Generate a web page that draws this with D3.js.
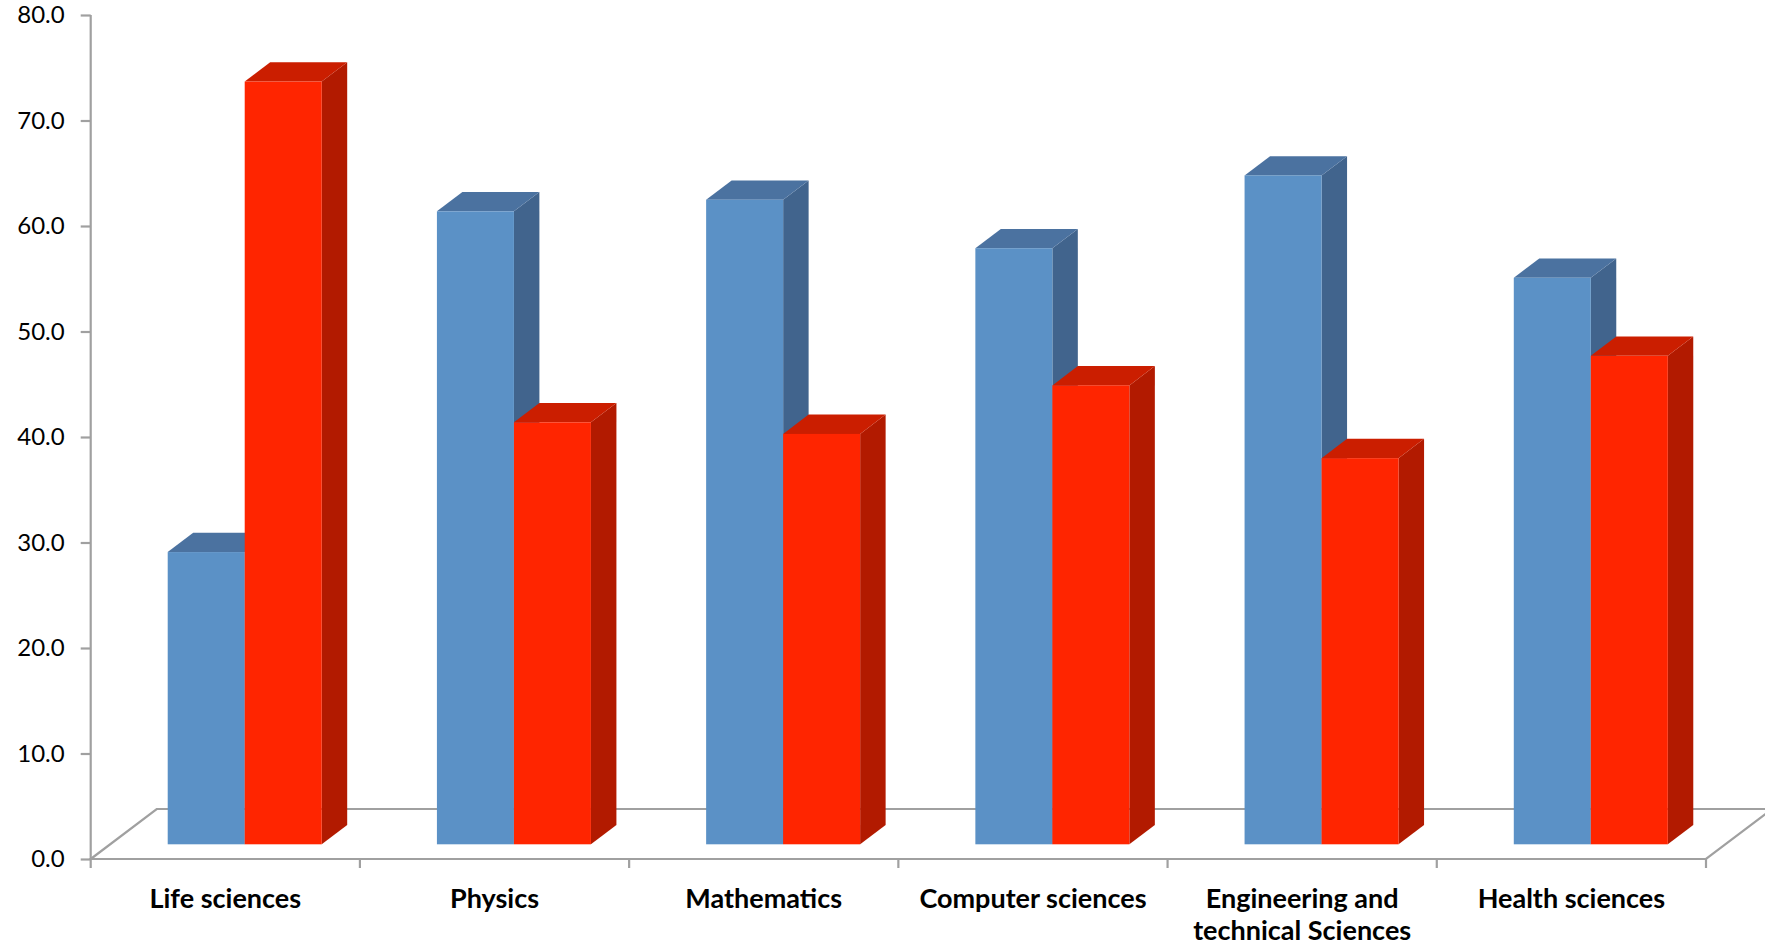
<!DOCTYPE html>
<html lang="en">
<head>
  <meta charset="UTF-8">
  <title>3D column chart</title>
  <script src="https://d3js.org/d3.v7.min.js"></script>
  <style>
    body {
      margin: 0;
      overflow: hidden;
      background: #fff;
      font-family: Lato, "Open Sans", sans-serif;
    }
    svg {
      display: block;
    }
    .axis-line {
      stroke: #a0a0a0;
      stroke-width: 2.2px;
      fill: none;
    }
    .y-axis text {
      font-family: Lato, "Open Sans", sans-serif;
      font-size: 24px;
      fill: #000;
    }
    .cat-label {
      font-family: Lato, "Open Sans", sans-serif;
      font-size: 27px;
      font-weight: bold;
      text-anchor: middle;
      fill: #000;
    }
  </style>
</head>
<body>
<svg></svg>
<script>
  const categories = ["Life sciences", "Physics", "Mathematics", "Computer sciences",
    "Engineering and technical Sciences", "Health sciences"];
  // two series, each pair adds up to 100
  const seriesA = [27.7, 60.0, 61.1, 56.5, 63.4, 53.7];
  const seriesB = [72.3, 40.0, 38.9, 43.5, 36.6, 46.3];
  const yTicks = [0, 10, 20, 30, 40, 50, 60, 70, 80];

  const width = 1765, height = 946;
  const svg = d3.select("svg").attr("width", width).attr("height", height);

  // floor depth (screen offset from front edge to back edge)
  const depth = { dx: 66, dy: -50 };
  const frontF = 0.294;   // bar front face, fraction of floor depth
  const barF = 0.386;     // bar thickness, fraction of floor depth

  const x0 = d3.scaleBand().domain(categories).range([90.7, 1706]);
  const x1 = d3.scaleBand().domain(["a", "b"]).range([0, x0.bandwidth()]).paddingOuter(0.748);
  const y = d3.scaleLinear().domain([0, 80]).range([859, 15]);

  const colors = {
    a: { front: "#5b91c6", top: "#4b72a0", side: "#41648d" },
    b: { front: "#ff2500", top: "#cb1e00", side: "#b21a00" }
  };

  // floor
  const left = x0.range()[0], right = x0.range()[1], y0 = y(0);
  const floor = svg.append("g");
  floor.append("path").attr("class", "axis-line")
    .attr("d", `M${left},${y0}L${left + depth.dx},${y0 + depth.dy}L${right + depth.dx},${y0 + depth.dy}L${right},${y0}Z`);

  // category ticks
  const bounds = categories.map(c => x0(c)).concat([right]);
  floor.selectAll(".ctick").data(bounds).join("line")
    .attr("class", "axis-line")
    .attr("x1", d => d).attr("x2", d => d)
    .attr("y1", y0).attr("y2", y0 + 9);

  // y axis
  const yAxis = svg.append("g")
    .attr("class", "y-axis")
    .attr("transform", `translate(${left},0)`)
    .call(d3.axisLeft(y).tickValues(yTicks).tickFormat(d3.format(".1f")).tickSize(10).tickPadding(16));
  yAxis.select(".domain").remove();
  yAxis.selectAll("line").attr("stroke", "#a0a0a0").attr("stroke-width", 2.2);
  yAxis.append("line").attr("class", "axis-line")
    .attr("x1", 0).attr("x2", 0).attr("y1", y(80)).attr("y2", y0);

  // bars
  const fx = depth.dx * frontF, fy = depth.dy * frontF;
  const bx = depth.dx * barF, by = depth.dy * barF;
  const bars = [];
  categories.forEach((c, i) => {
    bars.push({ cat: c, key: "a", value: seriesA[i] });
    bars.push({ cat: c, key: "b", value: seriesB[i] });
  });

  const barG = svg.append("g").selectAll("g").data(bars).join("g");
  barG.each(function (d) {
    const g = d3.select(this);
    const xl = x0(d.cat) + x1(d.key) + fx;
    const xr = xl + x1.bandwidth();
    const yb = y0 + fy;
    const yt = y(d.value) + fy;
    const col = colors[d.key];
    g.append("path").attr("fill", col.side)
      .attr("d", `M${xr},${yb}L${xr + bx},${yb + by}L${xr + bx},${yt + by}L${xr},${yt}Z`);
    g.append("path").attr("fill", col.top)
      .attr("d", `M${xl},${yt}L${xl + bx},${yt + by}L${xr + bx},${yt + by}L${xr},${yt}Z`);
    g.append("rect").attr("fill", col.front)
      .attr("x", xl).attr("y", yt).attr("width", x1.bandwidth()).attr("height", yb - yt);
  });

  // category labels, wrapped on "and"
  const labels = svg.append("g").selectAll("text").data(categories).join("text")
    .attr("class", "cat-label")
    .attr("x", d => x0(d) + x0.bandwidth() / 2)
    .attr("y", 908);
  labels.each(function (d) {
    const t = d3.select(this);
    const parts = d.length > 20 ? ["Engineering and", "technical Sciences"] : [d];
    parts.forEach((p, k) => {
      t.append("tspan").attr("x", t.attr("x")).attr("dy", k === 0 ? 0 : 31.5).text(p);
    });
  });
</script>
</body>
</html>
